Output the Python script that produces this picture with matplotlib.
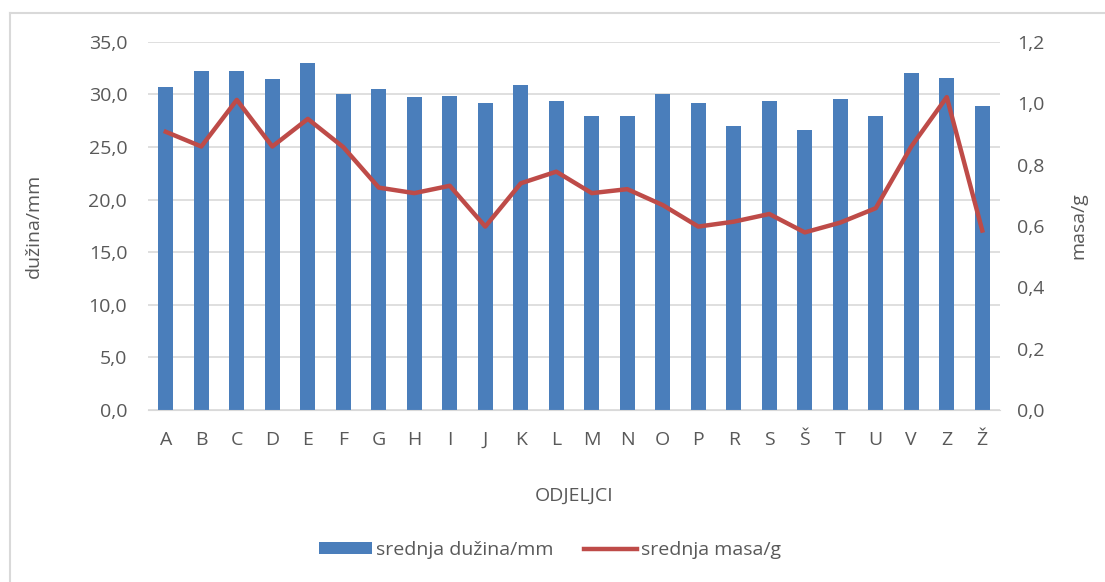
import matplotlib.pyplot as plt
from matplotlib.lines import Line2D
import numpy as np

plt.rcParams['font.family'] = ['Open Sans', 'DejaVu Sans']

odjeljci = ['A', 'B', 'C', 'D', 'E', 'F', 'G', 'H', 'I', 'J', 'K', 'L', 'M', 'N',
            'O', 'P', 'R', 'S', 'Š', 'T', 'U', 'V', 'Z', 'Ž']
duzina = [30.7, 32.2, 32.2, 31.5, 33.0, 30.0, 30.5, 29.8, 29.9, 29.2, 30.9, 29.4,
          28.0, 28.0, 30.0, 29.2, 27.0, 29.4, 26.6, 29.6, 28.0, 32.0, 31.6, 28.9]
masa = [0.907, 0.859, 1.011, 0.859, 0.949, 0.857, 0.725, 0.707, 0.731, 0.598, 0.739, 0.777,
        0.707, 0.720, 0.668, 0.598, 0.614, 0.639, 0.579, 0.611, 0.658, 0.859, 1.020, 0.585]

left_ticks = [0, 5, 10, 15, 20, 25, 30, 35]
right_ticks = [0, 0.2, 0.4, 0.6, 0.8, 1.0, 1.2]

blue = '#4a7ebb'
red = '#be4b48'
txt = '#595959'

fig = plt.figure(figsize=(11.05, 5.82), dpi=100)
ax = fig.add_axes([0.134, 0.2955, 0.771, 0.6325])
ax2 = ax.twinx()

x = np.arange(len(odjeljci))
bars = ax.bar(x, duzina, width=0.43, color=blue, zorder=2)
line, = ax2.plot(x, masa, color=red, lw=3.2, solid_joinstyle='round', zorder=3)

ax.set_xlim(-0.5, len(odjeljci) - 0.5)
ax.set_ylim(0, 35)
ax2.set_ylim(0, 1.2)
ax.set_yticks(left_ticks)
ax.set_yticklabels([f'{v:.1f}'.replace('.', ',') for v in left_ticks])
ax2.set_yticks(right_ticks)
ax2.set_yticklabels([f'{v:.1f}'.replace('.', ',') for v in right_ticks])
ax.set_xticks(x)
ax.set_xticklabels(odjeljci)

ax.grid(axis='y', color='#d9d9d9', lw=1.2, zorder=0)
ax.set_axisbelow(True)
for a in (ax, ax2):
    for s in a.spines.values():
        s.set_visible(False)
    a.tick_params(length=0, labelsize=14, colors=txt)
ax.spines['bottom'].set_visible(True)
ax.spines['bottom'].set_color('#d9d9d9')
ax.tick_params(axis='y', pad=15)
ax.tick_params(axis='x', pad=15)
ax2.tick_params(axis='y', pad=12)

ax.set_ylabel('dužina/mm', fontsize=14, color=txt, labelpad=33)
ax2.set_ylabel('masa/g', fontsize=14, color=txt, labelpad=18)
ax.set_xlabel('ODJELJCI', fontsize=14, color=txt, labelpad=27)

leg = ax.legend([bars, line], ['srednja dužina/mm', 'srednja masa/g'],
                loc='center', bbox_to_anchor=(0.472, -0.38), ncol=2, frameon=False,
                fontsize=14, labelcolor=txt, handlelength=2.7, handleheight=0.5,
                columnspacing=1.6, handletextpad=0.2)

# chart border
fig.add_artist(Line2D([0.009, 1.0], [0.978, 0.978], color='#d9d9d9', lw=1.5))
fig.add_artist(Line2D([0.009, 0.009], [0.0, 0.978], color='#d9d9d9', lw=1.5))

fig.savefig('out.png', dpi=100)
